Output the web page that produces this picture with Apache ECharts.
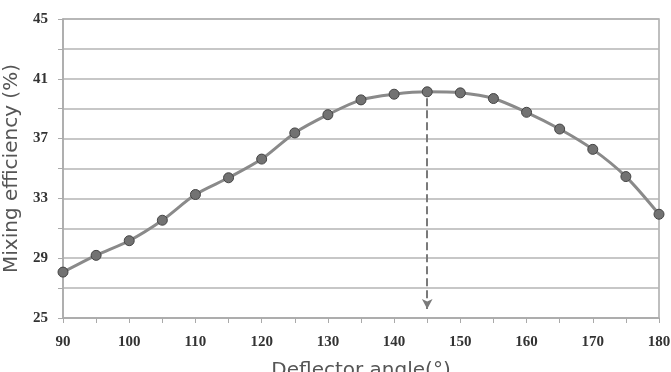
<!DOCTYPE html>
<html><head><meta charset="utf-8">
<script src="https://cdn.jsdelivr.net/npm/echarts@6/dist/echarts.min.js"></script>
<style>html,body{margin:0;padding:0;background:#fff}#c{width:671px;height:372px}</style>
</head><body><div id="c"></div>
<script>
const angles = [90,95,100,105,110,115,120,125,130,135,140,145,150,155,160,165,170,175,180];
const efficiency = [28.07,29.19,30.17,31.54,33.26,34.38,35.63,37.38,38.6,39.59,39.97,40.13,40.06,39.68,38.76,37.64,36.28,34.46,31.94];
const optimumAngle = 145;
const yTickLabels = [25,29,33,37,41,45];
const xTickLabels = [90,100,110,120,130,140,150,160,170,180];

const chart = echarts.init(document.getElementById('c'));
chart.setOption({
  animation:false,
  grid:{left:63,right:12,top:19,bottom:54,containLabel:false,outerBoundsMode:'none',show:true,borderColor:'#aaa',borderWidth:1.5,backgroundColor:'transparent'},
  xAxis:{type:'value',min:90,max:180,interval:5,
    name:'Deflector angle(°)',nameLocation:'middle',nameGap:43,
    nameTextStyle:{fontFamily:'DejaVu Sans',fontSize:20,color:'#555'},
    axisLine:{lineStyle:{color:'#aaa',width:1.5}},
    axisTick:{show:true,length:5,lineStyle:{color:'#aaa'}},
    axisLabel:{margin:17,fontFamily:'Liberation Serif',fontWeight:'bold',fontSize:15,color:'#333',
      formatter:v=>xTickLabels.includes(v)?String(v):''},
    splitLine:{show:false}},
  yAxis:{type:'value',min:25,max:45,interval:2,
    name:'Mixing efficiency (%)',nameLocation:'middle',nameGap:41,
    nameTextStyle:{fontFamily:'DejaVu Sans',fontSize:20,color:'#555'},
    axisLine:{show:true,lineStyle:{color:'#aaa',width:1.5}},
    axisTick:{show:true,length:5,lineStyle:{color:'#aaa'}},
    axisLabel:{margin:15,fontFamily:'Liberation Serif',fontWeight:'bold',fontSize:15,color:'#333',
      formatter:v=>yTickLabels.includes(v)?String(v):''},
    splitLine:{show:true,lineStyle:{color:'#b5b5b5',width:1.5}}},
  series:[{type:'line',data:angles.map((a,i)=>[a,efficiency[i]]),smooth:0.3,
    lineStyle:{color:'#8a8a8a',width:3},
    symbol:'circle',symbolSize:10,
    itemStyle:{color:'#727272',borderColor:'#444',borderWidth:1},
    markLine:{silent:true,symbol:['none','arrow'],symbolSize:[8,10],
      label:{show:false},
      lineStyle:{type:'dashed',color:'#7a7a7a',width:2},
      data:[[{coord:[optimumAngle,39.7]},{coord:[optimumAngle,25.6]}]]}
  }]
});
</script></body></html>
